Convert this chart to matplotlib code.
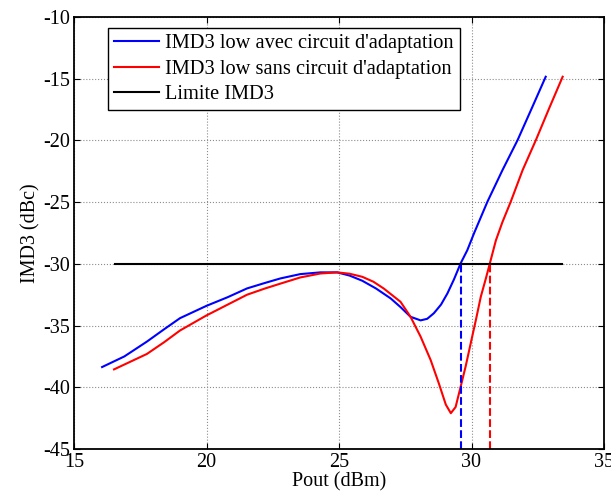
import matplotlib
matplotlib.use("Agg")
import matplotlib.pyplot as plt

plt.rcParams['font.family'] = ['Liberation Serif', 'DejaVu Serif']
plt.rcParams['axes.unicode_minus'] = False

# Data
pout_avec = [16.06, 16.9, 17.75, 18.4, 19.0, 20.0, 20.8, 21.53, 22.2, 22.79,
             23.54, 24.3, 24.93, 25.4, 25.88, 26.4, 26.95, 27.32, 27.7, 28.08,
             28.33, 28.58, 28.85, 29.09, 29.34, 29.59, 29.84, 30.1, 30.6, 31.17,
             31.74, 32.3, 32.8]
imd3_avec = [-38.36, -37.5, -36.3, -35.3, -34.4, -33.4, -32.7, -31.99, -31.55, -31.18,
             -30.83, -30.69, -30.69, -30.95, -31.37, -32.0, -32.8, -33.5, -34.29, -34.58,
             -34.45, -34.0, -33.3, -32.4, -31.25, -29.96, -28.9, -27.5, -24.97, -22.4,
             -19.97, -17.27, -14.84]

pout_sans = [16.51, 17.75, 18.4, 19.0, 19.98, 20.8, 21.53, 22.2, 22.79, 23.54,
             24.3, 24.93, 25.4, 25.88, 26.3, 26.69, 27.32, 27.7, 28.08, 28.46,
             28.77, 29.03, 29.22, 29.40, 29.59, 29.78, 29.97, 30.17, 30.35, 30.54,
             30.70, 30.92, 31.17, 31.48, 31.93, 32.43, 32.93, 33.44]
imd3_sans = [-38.55, -37.3, -36.35, -35.4, -34.2, -33.3, -32.5, -32.0, -31.6, -31.1,
             -30.78, -30.69, -30.8, -31.05, -31.45, -32.0, -33.07, -34.29, -35.9, -37.8,
             -39.7, -41.4, -42.1, -41.6, -39.96, -38.3, -36.44, -34.5, -32.67, -31.2,
             -29.9, -28.1, -26.6, -24.97, -22.4, -19.97, -17.4, -14.84]

limite_x = [16.55, 33.4]
limite_y = [-30, -30]

cross_avec = 29.59
cross_sans = 30.69

fig = plt.figure(figsize=(6.11, 4.97), dpi=100)
ax = fig.add_axes([74 / 611, 48 / 497, 530 / 611, 432 / 497])

ax.plot(pout_avec, imd3_avec, color='#0000ff', lw=1.5,
        label="IMD3 low avec circuit d'adaptation")
ax.plot(pout_sans, imd3_sans, color='#ff0000', lw=1.5,
        label="IMD3 low sans circuit d'adaptation")
ax.plot(limite_x, limite_y, color='black', lw=1.5, label='Limite IMD3')

# dashed verticals at the -30 dBc crossings
ax.plot([cross_avec, cross_avec], [-45, -30], color='#0000ff', lw=1.5, ls='--')
ax.plot([cross_sans, cross_sans], [-45, -30], color='#ff0000', lw=1.5, ls='--')

ax.set_xlim(15, 35)
ax.set_ylim(-45, -10)
ax.set_xticks([15, 20, 25, 30, 35])
ax.set_yticks([-45, -40, -35, -30, -25, -20, -15, -10])
ax.grid(True, color='0.55', linestyle=':', linewidth=0.8)
ax.tick_params(direction='in', top=True, right=True, labelsize=14.5, length=4, pad=3)
for sp in ax.spines.values():
    sp.set_linewidth(1.3)
    sp.set_color('black')

ax.set_xlabel('Pout (dBm)', fontsize=14.5, labelpad=0)
ax.set_ylabel('IMD3 (dBc)', fontsize=14.5, labelpad=2)

leg = ax.legend(loc='upper left', bbox_to_anchor=(34 / 530, 1 - 11 / 432),
                fontsize=14.7, frameon=True, fancybox=False, framealpha=1,
                edgecolor='black', handlelength=2.2, borderpad=0.3,
                labelspacing=0.3, handletextpad=0.3, borderaxespad=0)
leg.get_frame().set_linewidth(1.0)

fig.savefig('out.png', dpi=100)
